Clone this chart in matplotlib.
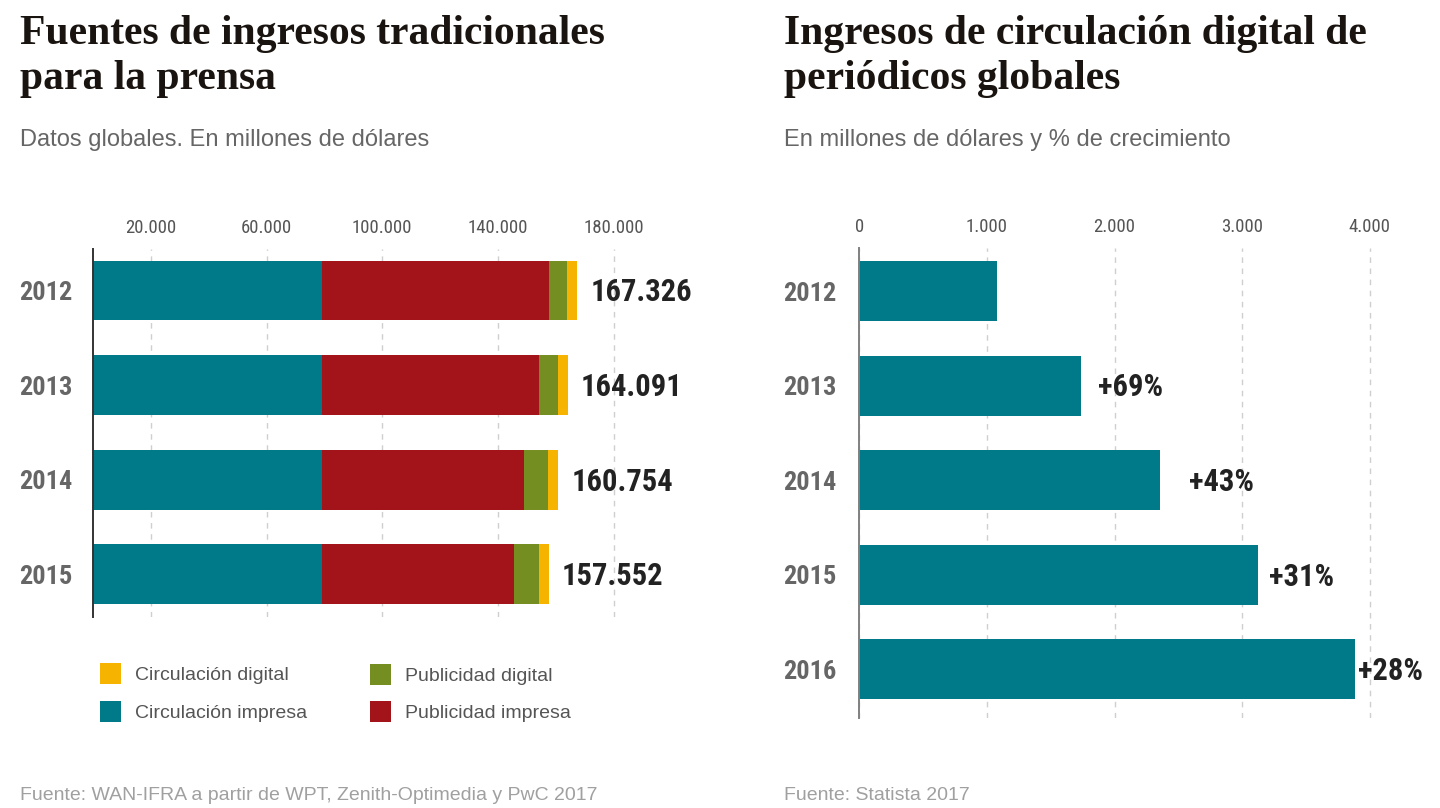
import matplotlib
matplotlib.use("Agg")
import matplotlib.pyplot as plt
from matplotlib.patches import Rectangle

# ---------------- data ----------------
years_left = ["2012", "2013", "2014", "2015"]
circ_impresa = [79200, 79200, 79200, 79200]
pub_impresa = [78300, 75100, 69850, 66350]
pub_digital = [6500, 6600, 8400, 8600]
circ_digital = [3300, 3200, 3300, 3400]
totals_left = [167326, 164091, 160754, 157552]
ticks_left = [20000, 60000, 100000, 140000, 180000]

years_right = ["2012", "2013", "2014", "2015", "2016"]
digital_circ = [1076, 1734, 2360, 3125, 3884]
growth_labels = ["", "+69%", "+43%", "+31%", "+28%"]
ticks_right = [0, 1000, 2000, 3000, 4000]

series_names = ["Circulación impresa", "Publicidad impresa", "Publicidad digital", "Circulación digital"]

# ---------------- style ----------------
TEAL = "#007a88"
RED = "#a3131a"
GREEN = "#748e22"
YELLOW = "#f6b300"
colors = [TEAL, RED, GREEN, YELLOW]
GRID = "#cfcfcf"
COND = "Roboto Condensed"
SANS = "Liberation Sans"
SERIF = "Liberation Serif"

W, H = 1440, 808
fig = plt.figure(figsize=(W / 100, H / 100), dpi=100)


def fx(px):
    return px / W


def fy(py):
    return 1 - py / H


def thousands(v):
    return f"{v:,.0f}".replace(",", ".")


# ---------------- left chart ----------------
axL = fig.add_axes([fx(93), fy(617), 607.5 / W, 368 / H])
axL.set_xlim(0, 210000)
axL.set_ylim(3.451, -0.4387)
ypos = range(len(years_left))
series = [circ_impresa, pub_impresa, pub_digital, circ_digital]
left = [0] * len(years_left)
for vals, col, name in zip(series, colors, series_names):
    axL.barh(list(ypos), vals, left=left, height=0.634, color=col, label=name, zorder=3)
    left = [a + b for a, b in zip(left, vals)]
for i, (end, tot) in enumerate(zip(left, totals_left)):
    axL.annotate(thousands(tot), (end, i), xytext=(9.5, -7.8), textcoords="offset points",
                 ha="left", va="baseline", fontsize=22, fontweight="bold",
                 family=COND, color="#222222", zorder=4)

axL.set_xticks(ticks_left)
axL.set_xticklabels([thousands(t) for t in ticks_left])
axL.xaxis.tick_top()
axL.set_yticks(list(ypos))
axL.set_yticklabels(years_left)

# ---------------- right chart ----------------
axR = fig.add_axes([fx(859.2), fy(718), 561.7 / W, 470 / H])
axR.set_xlim(0, 4400)
axR.set_ylim(4.513, -0.4545)
yposR = list(range(len(years_right)))
axR.barh(yposR, digital_circ, height=0.634, color=TEAL, zorder=3)
label_gap_px = [0, 17, 29, 11, 3]
for i, (v, lab) in enumerate(zip(digital_circ, growth_labels)):
    if lab:
        axR.annotate(lab, (v, i), xytext=(label_gap_px[i] * 0.72, -7.8), textcoords="offset points",
                     ha="left", va="baseline", fontsize=22, fontweight="bold",
                     family=COND, color="#222222", zorder=4)
axR.set_xticks(ticks_right)
axR.set_xticklabels([thousands(t) for t in ticks_right])
axR.xaxis.tick_top()
axR.set_yticks(yposR)
axR.set_yticklabels(years_right)

for ax, spcol, ypad in [(axL, "#333333", 15), (axR, "#808080", 16.5)]:
    for s in ["top", "right", "bottom"]:
        ax.spines[s].set_visible(False)
    ax.spines["left"].set_color(spcol)
    ax.spines["left"].set_linewidth(1.4)
    ax.spines["left"].set_zorder(5)
    ax.grid(axis="x", color=GRID, linestyle=(0, (4, 4)), linewidth=1.0, zorder=0)
    ax.set_axisbelow(True)
    ax.tick_params(axis="x", length=0, pad=8.5, labelsize=13.5, labelcolor="#555555")
    ax.tick_params(axis="y", length=0, pad=ypad, labelsize=19, labelcolor="#666666")
    for t in ax.get_xticklabels():
        t.set_family(COND)
    for t in ax.get_yticklabels():
        t.set_family(COND)
        t.set_fontweight("bold")

# ---------------- titles & texts ----------------
title_kw = dict(family=SERIF, fontweight="bold", fontsize=30, color="#1a1410", va="baseline", ha="left")
fig.text(fx(20), fy(44), "Fuentes de ingresos tradicionales", **title_kw)
fig.text(fx(20), fy(89), "para la prensa", **title_kw)
fig.text(fx(784), fy(44), "Ingresos de circulación digital de", **title_kw)
fig.text(fx(784), fy(89), "periódicos globales", **title_kw)

sub_kw = dict(family=SANS, fontsize=17, color="#666666", va="baseline", ha="left")
fig.text(fx(20), fy(146), "Datos globales. En millones de dólares", **sub_kw)
fig.text(fx(784), fy(146), "En millones de dólares y % de crecimiento", **sub_kw)

foot_kw = dict(family=SANS, fontsize=14, color="#a0a0a0", va="baseline", ha="left")
fig.text(fx(20), fy(800), "Fuente: WAN-IFRA a partir de WPT, Zenith-Optimedia y PwC 2017", **foot_kw)
fig.text(fx(784), fy(800), "Fuente: Statista 2017", **foot_kw)

# ---------------- legend (manual) ----------------
legend_items = [("Circulación digital", YELLOW, 100, 663),
                ("Circulación impresa", TEAL, 100, 701),
                ("Publicidad digital", GREEN, 370, 664),
                ("Publicidad impresa", RED, 370, 701)]
for name, col, x0, y0 in legend_items:
    fig.add_artist(Rectangle((fx(x0), fy(y0 + 21)), 21 / W, 21 / H, transform=fig.transFigure,
                             facecolor=col, edgecolor="none"))
    fig.text(fx(x0 + 35), fy(y0 + 17), name, family=SANS, fontsize=14, color="#555555",
             va="baseline", ha="left")

fig.savefig("out.png", dpi=100, facecolor="white")
